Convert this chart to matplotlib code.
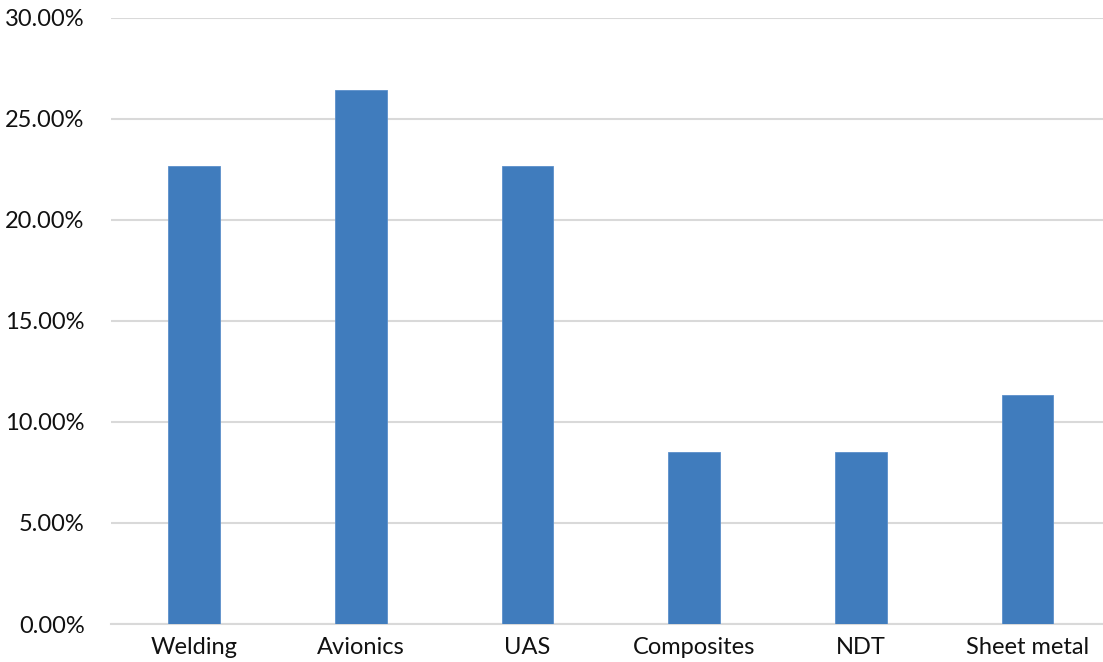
import matplotlib
matplotlib.use("Agg")
import matplotlib.pyplot as plt
from matplotlib.ticker import PercentFormatter, MultipleLocator

categories = ["Welding", "Avionics", "UAS", "Composites", "NDT", "Sheet metal"]
shares = [22.64, 26.42, 22.64, 8.49, 8.49, 11.32]

plt.rcParams["font.family"] = ["Lato", "DejaVu Sans"]

fig = plt.figure(figsize=(11.03, 6.62), dpi=100)
ax = fig.add_axes([0.1006, 0.0574, 0.9066, 0.916])

x = range(len(categories))
ax.bar(x, shares, width=0.31, color="#407CBD", edgecolor="#5B8FCB", linewidth=0.6, zorder=3)

ax.set_xlim(-0.5, len(categories) - 0.5)
ax.set_ylim(0, 30)
ax.yaxis.set_major_locator(MultipleLocator(5))
ax.yaxis.set_major_formatter(PercentFormatter(decimals=2))
ax.grid(axis="y", color="#d9d9d9", linewidth=1.5, zorder=0)
ax.set_xticks(list(x))
ax.set_xticklabels(categories)

for s in ["top", "right", "left"]:
    ax.spines[s].set_visible(False)
ax.spines["bottom"].set_color("#d9d9d9")
ax.spines["bottom"].set_linewidth(1.5)

ax.tick_params(axis="y", length=0, pad=19, labelsize=17, labelcolor="#111111")
ax.tick_params(axis="x", length=0, pad=9, labelsize=17, labelcolor="#111111")

fig.savefig("out.png", dpi=100)
